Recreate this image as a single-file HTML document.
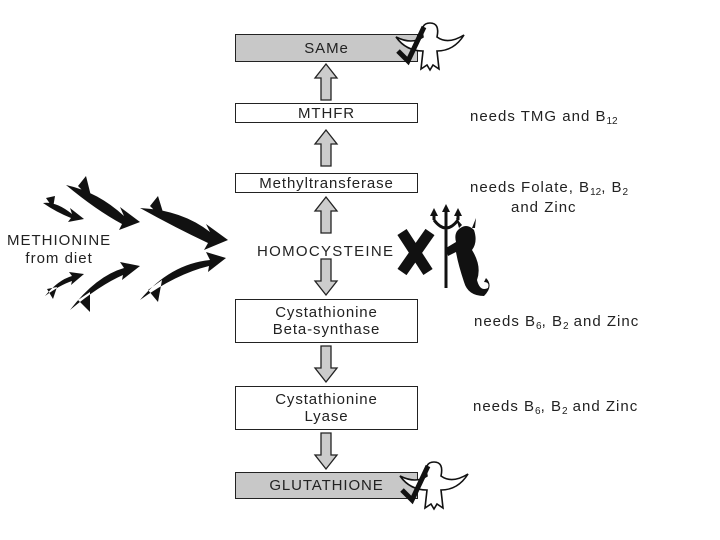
<!DOCTYPE html>
<html><head><style>
body{margin:0;background:#fff;width:720px;height:540px;overflow:hidden;font-family:"Liberation Sans",sans-serif;color:#222}
.b{position:absolute;left:235px;width:183px;border:1.5px solid #222;box-sizing:border-box;text-align:center;font-size:15px;letter-spacing:0.9px;line-height:17px;display:flex;align-items:center;justify-content:center;background:#fff}
.g{background:#c8c8c8}
.t{position:absolute;font-size:15px;letter-spacing:1px;white-space:nowrap}
sub{font-size:10px;vertical-align:-3px;line-height:0;letter-spacing:0}
</style></head><body>
<div class="b g" style="top:34px;height:28px">SAMe</div>
<div class="b" style="top:103px;height:20px">MTHFR</div>
<div class="b" style="top:173px;height:20px">Methyltransferase</div>
<div class="t" style="left:257px;top:243px;letter-spacing:1.3px">HOMOCYSTEINE</div>
<div class="b" style="top:299px;height:44px">Cystathionine<br>Beta-synthase</div>
<div class="b" style="top:386px;height:44px">Cystathionine<br>Lyase</div>
<div class="b g" style="top:472px;height:27px">GLUTATHIONE</div>
<div class="t" style="left:470px;top:108px">needs TMG and B<sub>12</sub></div>
<div class="t" style="left:470px;top:179px">needs Folate, B<sub>12</sub>, B<sub>2</sub></div>
<div class="t" style="left:511px;top:199px">and Zinc</div>
<div class="t" style="left:474px;top:313px">needs B<sub>6</sub>, B<sub>2</sub> and Zinc</div>
<div class="t" style="left:473px;top:398px">needs B<sub>6</sub>, B<sub>2</sub> and Zinc</div>
<div class="t" style="left:7px;top:232px;letter-spacing:1px;text-align:center;line-height:18px">METHIONINE<br>from diet</div>
<svg width="720" height="540" style="position:absolute;left:0;top:0">
<defs>
<g id="up"><polygon points="0,-18 -11,-4 -5,-4 -5,18 5,18 5,-4 11,-4" fill="#ccc" stroke="#222" stroke-width="1.3"/></g>
<g id="dn"><polygon points="0,18 -11,4 -5,4 -5,-18 5,-18 5,4 11,4" fill="#ccc" stroke="#222" stroke-width="1.3"/></g>
<g id="angel"><path d="M-34,-6 Q-18,2 -7,-6 Q-10,-20 0,-20 Q10,-20 7,-6 Q18,2 34,-8 Q24,8 7,8 L9,26 L3,22 L0,27 L-3,22 L-9,26 L-7,8 Q-24,8 -34,-6Z" fill="#fff" stroke="#111" stroke-width="1.6"/><path d="M-32,8 L-22,18 L-6,-16" fill="none" stroke="#111" stroke-width="5"/></g>
</defs>
<use href="#up" x="326" y="82"/>
<use href="#up" x="326" y="148"/>
<use href="#up" x="326" y="215"/>
<use href="#dn" x="326" y="277"/>
<use href="#dn" x="326" y="364"/>
<use href="#dn" x="326" y="451"/>
<use href="#angel" x="430" y="43"/>
<use href="#angel" x="434" y="482"/>
<!-- X -->
<path d="M402,232 L428,272 M430,232 L402,272" stroke="#111" stroke-width="11"/>
<!-- devil -->
<path d="M446,212 L446,288 M434,220 Q446,236 458,220 M434,220 L434,214 M458,220 L458,214" stroke="#111" stroke-width="3" fill="none"/>
<path d="M430,216 l4,-8 l4,8z M454,216 l4,-8 l4,8z M442,212 l4,-8 l4,8z" fill="#111"/>
<path d="M458,230 Q466,222 474,230 Q478,242 472,250 Q482,266 477,280 Q480,292 488,288 Q490,282 484,282 L486,278 Q494,286 484,296 Q468,296 464,282 Q458,264 456,252 L448,256 L446,248 L456,242 Q454,234 458,230Z M459,228 l-3,-10 l6,7z M472,228 l4,-10 l-1,10z" fill="#111"/>
<!-- methionine arrows -->
<g fill="#111">
<path d="M43,203 Q56,201 72,214 L70,208 L84,219 L68,222 L71,218 Q56,212 43,203Z M46,198 L55,196 L53,208Z"/>
<path d="M66,185 Q98,192 124,216 L120,207 L140,222 L119,230 L122,224 Q96,210 66,185Z M78,186 L86,176 L92,200Z"/>
<path d="M140,208 Q182,210 210,232 L206,224 L228,240 L204,250 L208,243 Q176,228 140,208Z M150,206 L158,196 L166,222Z"/>
<path d="M45,296 Q58,280 72,276 L69,272 L84,274 L71,285 L72,281 Q60,285 45,296Z M47,289 L53,299 L57,287Z"/>
<path d="M70,310 Q96,276 124,268 L120,262 L140,266 L122,280 L123,275 Q100,285 70,310Z M78,300 L90,312 L90,292Z"/>
<path d="M140,300 Q170,264 210,260 L206,252 L226,258 L208,272 L209,266 Q176,274 140,300Z M148,290 L158,302 L162,280Z"/>
</g>
</svg>
</body></html>
